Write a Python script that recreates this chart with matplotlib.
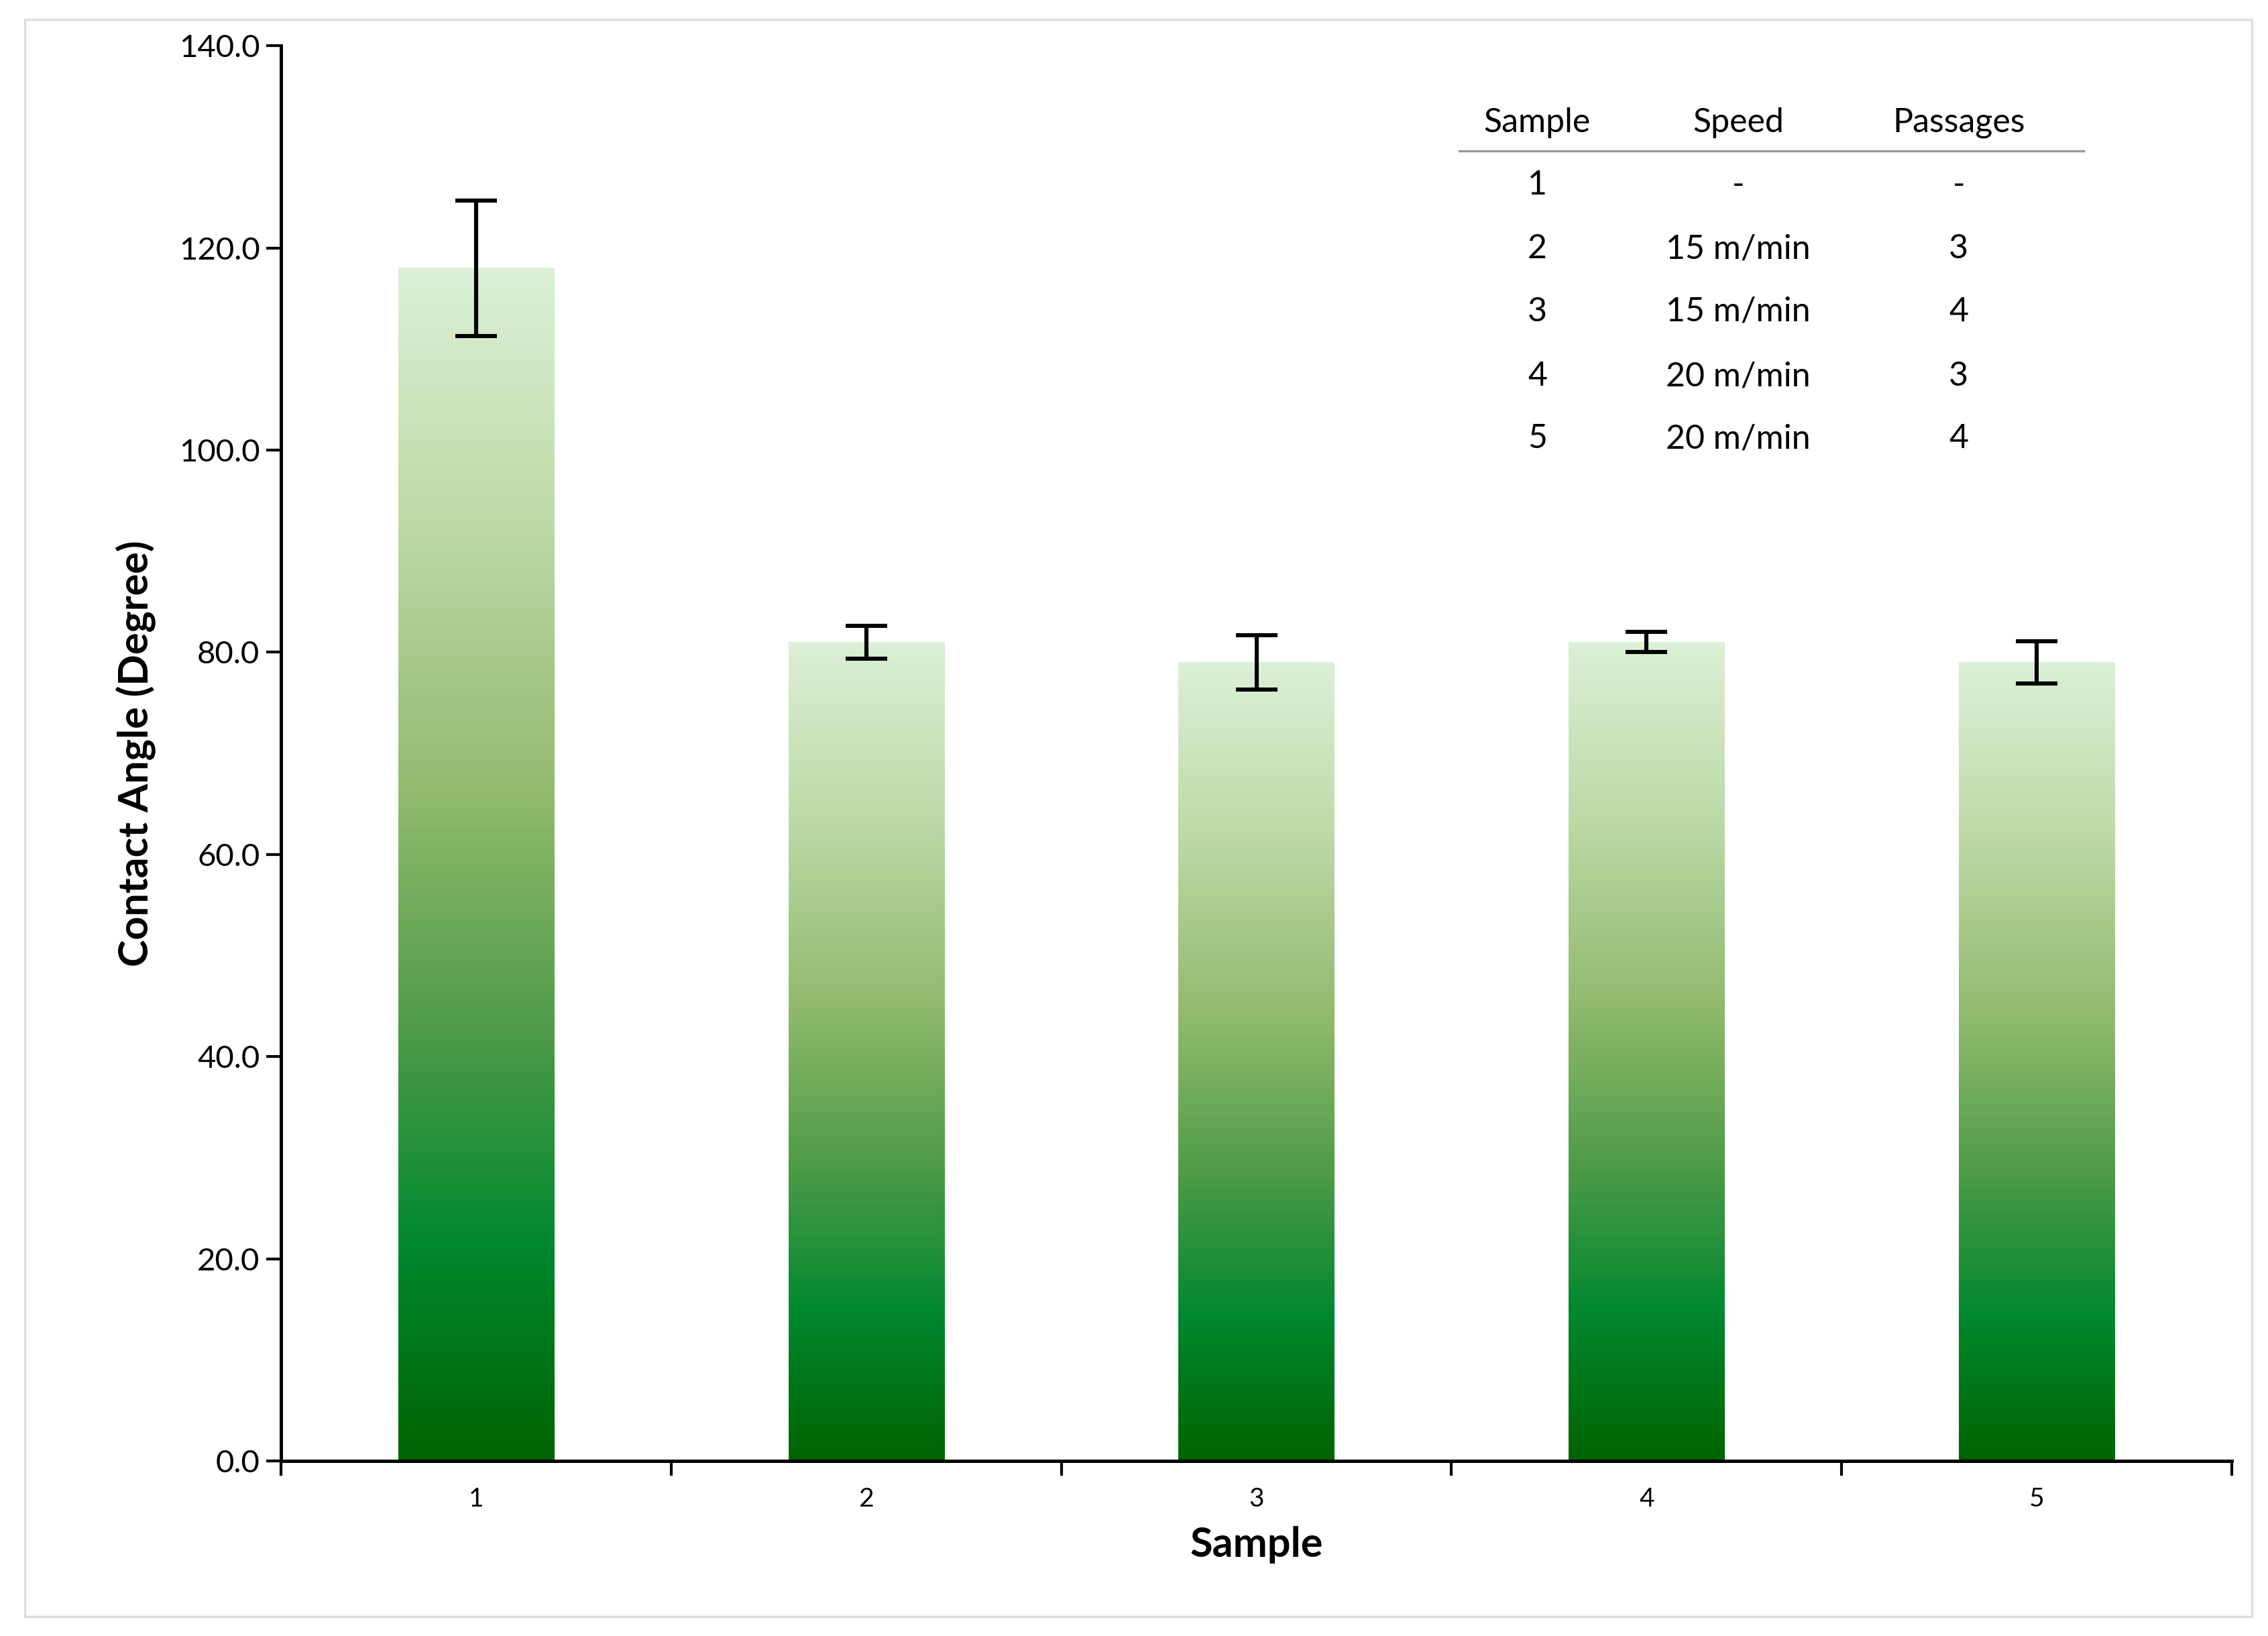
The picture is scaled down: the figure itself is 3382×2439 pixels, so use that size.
import numpy as np
import matplotlib.pyplot as plt
from matplotlib.colors import LinearSegmentedColormap
from matplotlib.patches import Rectangle

plt.rcParams['font.family'] = ['Lato', 'DejaVu Sans']

samples = ['1', '2', '3', '4', '5']
angles = [118.0, 81.0, 79.0, 81.0, 79.0]
errors = [6.7, 1.6, 2.7, 1.0, 2.1]

table_header = ['Sample', 'Speed', 'Passages']
table_rows = [['1', '-', '-'],
              ['2', '15 m/min', '3'],
              ['3', '15 m/min', '4'],
              ['4', '20 m/min', '3'],
              ['5', '20 m/min', '4']]

cmap = LinearSegmentedColormap.from_list(
    'bar_green',
    [(0.0, '#006400'), (0.18, '#00882f'), (0.35, '#4a9a45'),
     (0.55, '#8fb96c'), (0.78, '#bcd9a6'), (1.0, '#dcf0d6')])

fig = plt.figure(figsize=(16.91, 12.195), dpi=200)
ax = fig.add_axes([0.124, 0.107, 0.86, 0.865])
fig.patches.append(Rectangle((0.011, 0.012), 0.982, 0.976, transform=fig.transFigure,
                             fill=False, edgecolor='#dddddd', linewidth=1.2))

x = np.arange(len(samples))
width = 0.4
grad = np.linspace(0, 1, 256).reshape(-1, 1)
for xi, h in zip(x, angles):
    ax.imshow(grad, cmap=cmap, origin='lower', aspect='auto',
              extent=(xi - width / 2, xi + width / 2, 0, h), zorder=2)
ax.errorbar(x, angles, yerr=errors, fmt='none', ecolor='black',
            elinewidth=2.2, capsize=11, capthick=2.2, zorder=3)

ax.set_xlim(-0.5, 4.5)
ax.set_ylim(0, 140)
ax.set_yticks(np.arange(0, 141, 20))
ax.set_yticklabels([f'{v:.1f}' for v in np.arange(0, 141, 20)], fontsize=17)
ax.set_xticks(x)
ax.set_xticklabels(samples, fontsize=14)
ax.set_xticks(np.arange(-0.5, 4.6, 1), minor=True)
ax.tick_params(axis='x', which='major', length=0, pad=14)
ax.tick_params(axis='x', which='minor', length=8, width=1.5, direction='out')
ax.tick_params(axis='y', length=8, width=1.5, direction='out')
for s in ['top', 'right']:
    ax.spines[s].set_visible(False)
for s in ['left', 'bottom']:
    ax.spines[s].set_linewidth(1.8)

ax.set_xlabel('Sample', fontsize=22, fontweight='bold', labelpad=8)
ax.set_ylabel('Contact Angle (Degree)', fontsize=22, fontweight='bold', labelpad=12)

# inset table
col_x = [2.72, 3.235, 3.80]
row_y = [126.2, 119.9, 113.7, 107.3, 101.1]
for cx, t in zip(col_x, table_header):
    ax.text(cx, 132.4, t, ha='center', va='center', fontsize=18)
ax.plot([2.52, 4.12], [129.6, 129.6], color='#999999', linewidth=1.2)
for ry, row in zip(row_y, table_rows):
    for cx, t in zip(col_x, row):
        ax.text(cx, ry, t, ha='center', va='center', fontsize=18)

fig.savefig('out.png', dpi=200)
